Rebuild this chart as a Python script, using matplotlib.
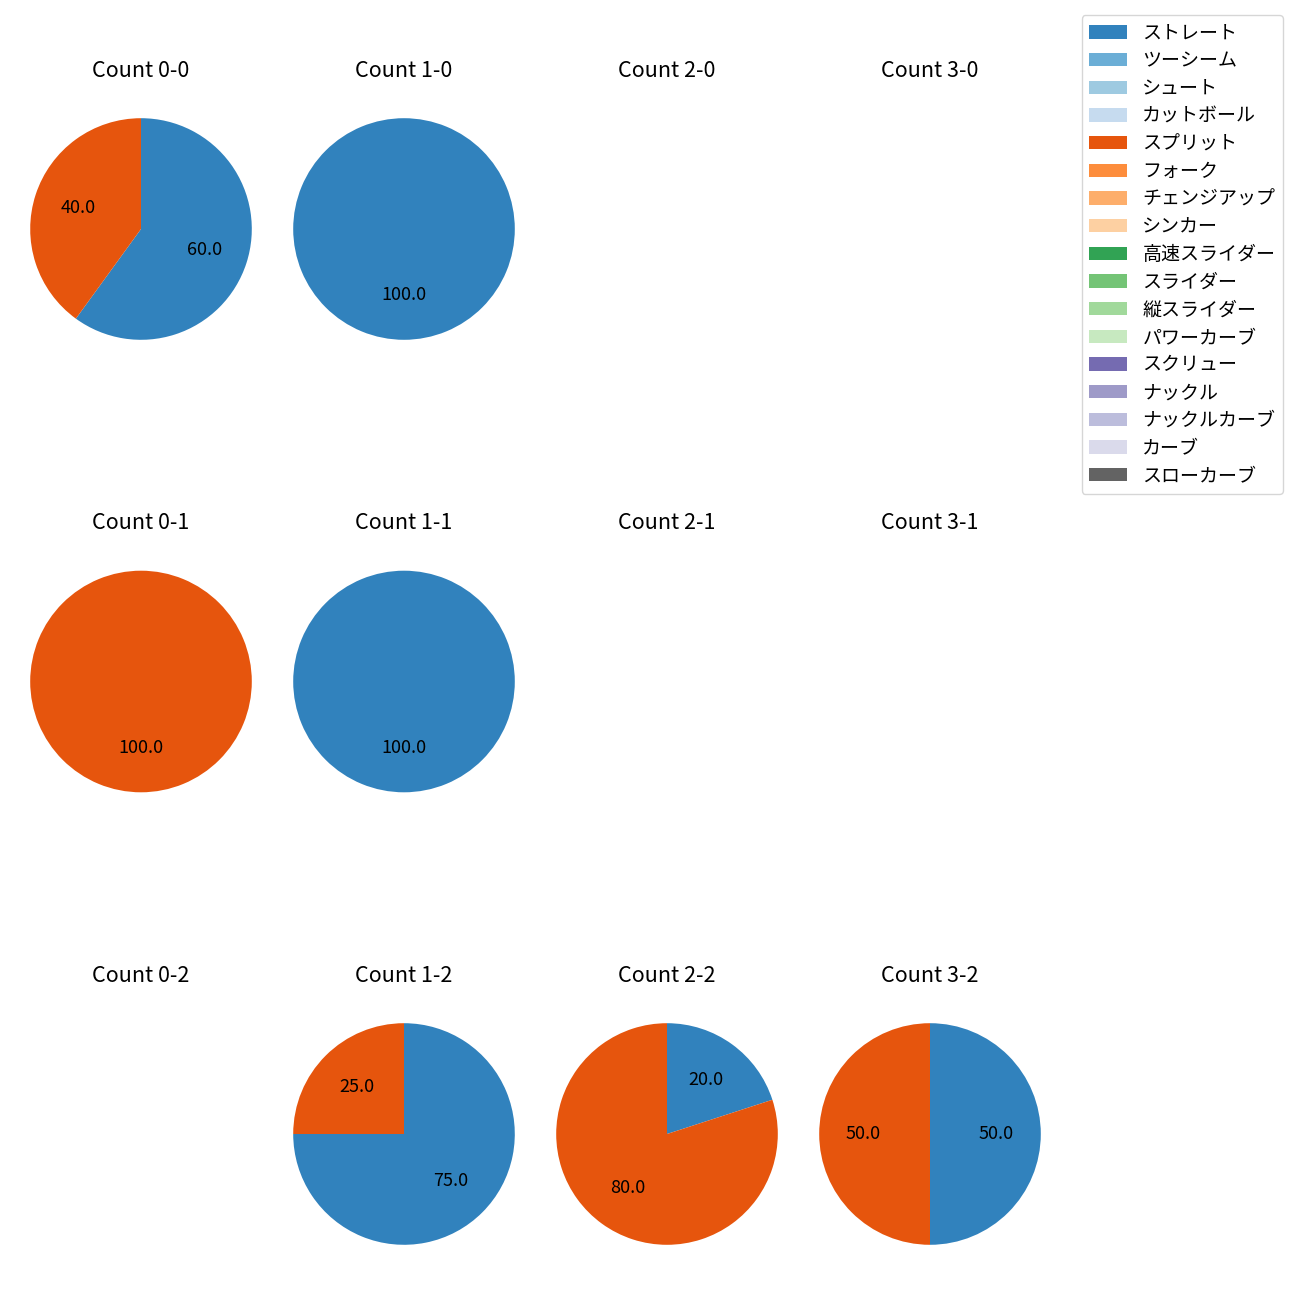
import matplotlib
matplotlib.use('Agg')
import matplotlib.pyplot as plt
from matplotlib.patches import Patch

plt.rcParams['font.family'] = ['Noto Sans CJK JP', 'DejaVu Sans']

pitch_types = ['ストレート', 'ツーシーム', 'シュート', 'カットボール', 'スプリット', 'フォーク',
               'チェンジアップ', 'シンカー', '高速スライダー', 'スライダー', '縦スライダー',
               'パワーカーブ', 'スクリュー', 'ナックル', 'ナックルカーブ', 'カーブ', 'スローカーブ']

balls = [0, 1, 2, 3]
strikes = [0, 1, 2]

# percentages per count, ordered row by row (strikes), columns = balls
straight_pct = [60, 100, 0, 0,
                0, 100, 0, 0,
                0, 75, 20, 50]
split_pct = [40, 0, 0, 0,
             100, 0, 0, 0,
             0, 25, 80, 50]

cmap = plt.get_cmap('tab20c')
colors = [cmap(i) for i in range(len(pitch_types))]

fig = plt.figure(figsize=(13, 13), dpi=100)
W = H = 1300.0
size = 277.0
for r, s in enumerate(strikes):
    for c, b in enumerate(balls):
        cx = 141 + 263 * c
        cy = 229 + 452.5 * r
        ax = fig.add_axes([(cx - size / 2) / W, 1 - (cy + size / 2) / H, size / W, size / H])
        idx = r * 4 + c
        vals, cols = [], []
        if straight_pct[idx] > 0:
            vals.append(straight_pct[idx]); cols.append(colors[0])
        if split_pct[idx] > 0:
            vals.append(split_pct[idx]); cols.append(colors[4])
        if vals:
            ax.pie(vals, colors=cols, autopct='%.1f', startangle=90, counterclock=False,
                   textprops={'fontsize': 13})
        else:
            ax.set_xlim(-1.25, 1.25)
            ax.set_ylim(-1.25, 1.25)
        ax.set_aspect('equal')
        ax.axis('off')
        ax.set_title(f'Count {b}-{s}', fontsize=15.5, pad=10)

handles = [Patch(facecolor=colors[i], label=pitch_types[i]) for i in range(len(pitch_types))]
fig.legend(handles=handles, loc='upper right', bbox_to_anchor=(1283 / W, 1 - 15 / H),
           borderaxespad=0, fontsize=13.7, labelspacing=0.35)

fig.savefig('out.png', dpi=100)
